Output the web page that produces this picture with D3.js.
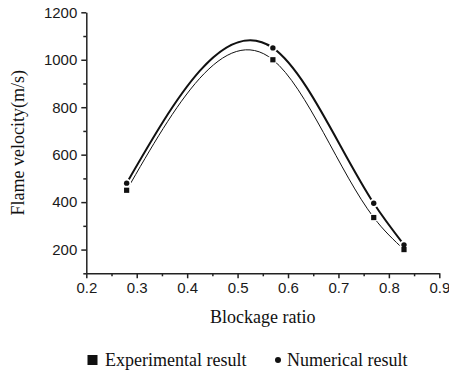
<!doctype html>
<html lang="en">
  <head>
    <meta charset="UTF-8" />
    <title>Flame velocity vs blockage ratio</title>
    <script src="https://unpkg.com/d3@7.9.0/dist/d3.min.js"></script>
    <style>
      body {
        margin: 0;
        background: #fff;
        overflow: hidden;
      }
      .tick text {
        font-family: 'Liberation Sans', Arial, sans-serif;
        font-size: 15px;
        fill: #1a1a1a;
      }
      .axis path,
      .axis line {
        stroke: #222;
        stroke-width: 1.5;
      }
      .title {
        font-family: 'Liberation Serif', 'Times New Roman', serif;
        font-size: 18px;
        fill: #111;
      }
    </style>
  </head>
  <body>
    <svg width="449" height="373"></svg>

    <script>
      // data
      const blockage = [0.28, 0.57, 0.77, 0.83];
      const experimental = [450, 1000, 335, 200];
      const numerical = [480, 1050, 395, 220];
      const xTicks = [0.2, 0.3, 0.4, 0.5, 0.6, 0.7, 0.8, 0.9];
      const xMinor = [0.25, 0.35, 0.45, 0.55, 0.65, 0.75, 0.85];
      const yTicks = [200, 400, 600, 800, 1000, 1200];
      const yMinor = [100, 300, 500, 700, 900, 1100];

      const margin = { top: 12.3, right: 9.7, bottom: 99.7, left: 86.3 },
        width = 449 - margin.left - margin.right,
        height = 373 - margin.top - margin.bottom;

      const svg = d3
        .select('svg')
        .append('g')
        .attr('transform', `translate(${margin.left},${margin.top})`);

      const x = d3.scaleLinear().domain([0.2, 0.9]).range([0, width]);
      const y = d3.scaleLinear().domain([100, 1200]).range([height, 0]);

      // natural cubic spline with y as a function of x (Origin style),
      // written out as bezier segments
      function curveSplineX(context) {
        let pts = [];
        return {
          areaStart() {},
          areaEnd() {},
          lineStart() {
            pts = [];
          },
          point(px, py) {
            pts.push([+px, +py]);
          },
          lineEnd() {
            const n = pts.length;
            if (!n) return;
            context.moveTo(pts[0][0], pts[0][1]);
            if (n < 3) {
              for (let i = 1; i < n; i++) context.lineTo(pts[i][0], pts[i][1]);
              return;
            }
            const h = [],
              s = [];
            for (let i = 0; i < n - 1; i++) {
              h.push(pts[i + 1][0] - pts[i][0]);
              s.push((pts[i + 1][1] - pts[i][1]) / h[i]);
            }
            // tridiagonal solve for interior second derivatives
            const M = new Array(n).fill(0);
            const a = [],
              b = [],
              c = [],
              r = [];
            for (let i = 1; i < n - 1; i++) {
              a.push(h[i - 1]);
              b.push(2 * (h[i - 1] + h[i]));
              c.push(h[i]);
              r.push(6 * (s[i] - s[i - 1]));
            }
            const m = b.length;
            for (let i = 1; i < m; i++) {
              const w = a[i] / b[i - 1];
              b[i] -= w * c[i - 1];
              r[i] -= w * r[i - 1];
            }
            const sol = new Array(m);
            sol[m - 1] = r[m - 1] / b[m - 1];
            for (let i = m - 2; i >= 0; i--) sol[i] = (r[i] - c[i] * sol[i + 1]) / b[i];
            for (let i = 0; i < m; i++) M[i + 1] = sol[i];

            for (let i = 0; i < n - 1; i++) {
              const d0 = s[i] - (h[i] * (2 * M[i] + M[i + 1])) / 6;
              const d1 = s[i] + (h[i] * (M[i] + 2 * M[i + 1])) / 6;
              const [x0, y0] = pts[i],
                [x1, y1] = pts[i + 1];
              context.bezierCurveTo(
                x0 + h[i] / 3,
                y0 + (d0 * h[i]) / 3,
                x1 - h[i] / 3,
                y1 - (d1 * h[i]) / 3,
                x1,
                y1,
              );
            }
          },
        };
      }

      // minor ticks first, then major axes on top
      svg
        .append('g')
        .attr('class', 'axis')
        .attr('transform', `translate(0,${height})`)
        .call(d3.axisBottom(x).tickValues(xMinor).tickSize(3).tickFormat(''))
        .select('.domain')
        .remove();
      svg
        .append('g')
        .attr('class', 'axis')
        .call(d3.axisLeft(y).tickValues(yMinor).tickSize(3).tickFormat(''))
        .select('.domain')
        .remove();

      svg
        .append('g')
        .attr('class', 'axis')
        .attr('transform', `translate(0,${height})`)
        .call(
          d3
            .axisBottom(x)
            .tickValues(xTicks)
            .tickSize(5)
            .tickSizeOuter(0)
            .tickPadding(4)
            .tickFormat(d3.format('.1f')),
        );
      svg
        .append('g')
        .attr('class', 'axis')
        .call(
          d3
            .axisLeft(y)
            .tickValues(yTicks)
            .tickSize(5)
            .tickSizeOuter(0)
            .tickPadding(4)
            .tickFormat(d3.format('d')),
        );

      svg
        .append('text')
        .attr('class', 'title')
        .attr('x', width / 2)
        .attr('y', height + 50)
        .attr('text-anchor', 'middle')
        .text('Blockage ratio');

      svg
        .append('text')
        .attr('class', 'title')
        .attr('transform', 'rotate(-90)')
        .attr('x', -height / 2)
        .attr('y', -62)
        .attr('text-anchor', 'middle')
        .text('Flame velocity(m/s)');

      const line = d3
        .line()
        .curve(curveSplineX)
        .x((d) => x(d[0]))
        .y((d) => y(d[1]));

      const expPts = blockage.map((b, i) => [b, experimental[i]]);
      const numPts = blockage.map((b, i) => [b, numerical[i]]);

      svg
        .append('path')
        .datum(expPts)
        .attr('fill', 'none')
        .attr('stroke', '#111')
        .attr('stroke-width', 1)
        .attr('d', line);
      svg
        .append('path')
        .datum(numPts)
        .attr('fill', 'none')
        .attr('stroke', '#111')
        .attr('stroke-width', 2)
        .attr('d', line);

      // white halos so lines break near the symbols
      svg
        .selectAll('.halo')
        .data(expPts.concat(numPts))
        .enter()
        .append('circle')
        .attr('class', 'halo')
        .attr('cx', (d) => x(d[0]))
        .attr('cy', (d) => y(d[1]))
        .attr('r', 4.5)
        .attr('fill', '#fff');

      svg
        .selectAll('.sq')
        .data(expPts)
        .enter()
        .append('rect')
        .attr('class', 'sq')
        .attr('x', (d) => x(d[0]) - 2.6)
        .attr('y', (d) => y(d[1]) - 2.6)
        .attr('width', 5.2)
        .attr('height', 5.2)
        .attr('fill', '#111');

      svg
        .selectAll('.dot')
        .data(numPts)
        .enter()
        .append('circle')
        .attr('class', 'dot')
        .attr('cx', (d) => x(d[0]))
        .attr('cy', (d) => y(d[1]))
        .attr('r', 2.7)
        .attr('fill', '#111');

      // legend
      const legend = d3.select('svg').append('g');
      legend
        .append('rect')
        .attr('x', 87.5)
        .attr('y', 355)
        .attr('width', 10)
        .attr('height', 10)
        .attr('fill', '#111');
      legend
        .append('text')
        .attr('class', 'title')
        .attr('x', 105)
        .attr('y', 366)
        .text('Experimental result');
      legend
        .append('circle')
        .attr('cx', 278)
        .attr('cy', 360)
        .attr('r', 3)
        .attr('fill', '#111');
      legend
        .append('text')
        .attr('class', 'title')
        .attr('x', 287)
        .attr('y', 366)
        .text('Numerical result');
    </script>
  </body>
</html>
